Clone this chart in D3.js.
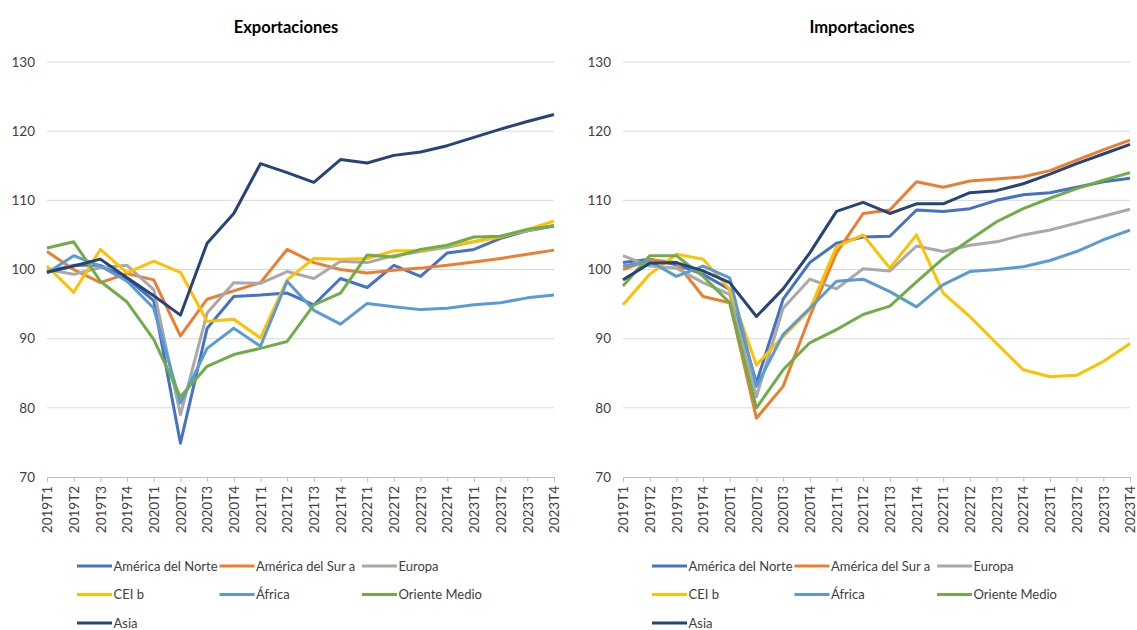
<!DOCTYPE html>
<html>
<head>
<meta charset="utf-8">
<script src="https://cdn.jsdelivr.net/npm/d3@7"></script>
<style>
  html, body { margin: 0; padding: 0; background: #fff; }
  svg { display: block; font-family: Lato, 'Open Sans', sans-serif; }
</style>
</head>
<body>
<svg id="chart"></svg>
<script>
// trimestres
const categories = ['2019T1', '2019T2', '2019T3', '2019T4', '2020T1', '2020T2', '2020T3', '2020T4',
  '2021T1', '2021T2', '2021T3', '2021T4', '2022T1', '2022T2', '2022T3', '2022T4',
  '2023T1', '2023T2', '2023T3', '2023T4']
const seriesNames = ['América del Norte', 'América del Sur a', 'Europa', 'CEI b', 'África', 'Oriente Medio', 'Asia']
const seriesColors = ['#4472C4', '#ED7D31', '#A9A9A9', '#FFC000', '#5B9BD5', '#70AD47', '#264478']
const yTicks = [70, 80, 90, 100, 110, 120, 130]

// Exportaciones
const expNorte = [99.7, 100.6, 100.6, 98.7, 95.5, 74.9, 91.5, 96.1, 96.3, 96.6, 94.9, 98.7, 97.4, 100.6, 99.0, 102.4, 102.9, 104.5, 105.6, 106.3]
const expSur = [102.6, 100.0, 98.1, 99.4, 98.5, 90.4, 95.7, 96.9, 98.1, 102.9, 101.0, 100.0, 99.5, 99.9, 100.2, 100.6, 101.1, 101.6, 102.2, 102.8]
const expEuropa = [100.0, 99.3, 100.3, 100.6, 97.1, 79.0, 93.7, 98.1, 98.0, 99.7, 98.7, 101.2, 101.0, 102.0, 102.6, 103.2, 104.0, 104.8, 105.6, 106.4]
const expCei = [100.5, 96.7, 102.9, 99.5, 101.2, 99.6, 92.5, 92.8, 90.1, 98.5, 101.6, 101.5, 101.6, 102.7, 102.7, 103.5, 104.0, 104.7, 105.8, 107.0]
const expAfrica = [99.5, 102.0, 100.5, 98.3, 94.4, 80.7, 88.6, 91.5, 88.9, 98.3, 94.1, 92.1, 95.1, 94.6, 94.2, 94.4, 94.9, 95.2, 95.9, 96.3]
const expOriente = [103.1, 104.0, 98.3, 95.3, 89.9, 81.6, 86.0, 87.7, 88.6, 89.6, 94.9, 96.6, 102.1, 101.8, 102.9, 103.5, 104.7, 104.8, 105.8, 106.3]
const expAsia = [99.6, 100.5, 101.5, 98.8, 96.2, 93.4, 103.8, 108.1, 115.3, 114.0, 112.6, 115.9, 115.4, 116.5, 117.0, 117.9, 119.1, 120.3, 121.4, 122.4]

// Importaciones
const impNorte = [101.0, 101.5, 100.7, 99.3, 97.1, 83.6, 95.7, 101.0, 103.8, 104.7, 104.8, 108.6, 108.4, 108.8, 110.0, 110.8, 111.1, 111.9, 112.7, 113.2]
const impSur = [100.0, 101.4, 101.0, 96.1, 95.2, 78.5, 83.1, 93.2, 102.4, 108.1, 108.6, 112.7, 111.9, 112.8, 113.1, 113.4, 114.3, 115.8, 117.3, 118.7]
const impEuropa = [102.0, 100.5, 100.2, 98.1, 96.4, 81.6, 94.4, 98.6, 97.2, 100.1, 99.8, 103.4, 102.6, 103.5, 104.0, 105.0, 105.7, 106.7, 107.7, 108.7]
const impCei = [94.9, 99.3, 102.2, 101.5, 97.1, 86.2, 90.3, 94.2, 103.3, 105.0, 100.2, 105.0, 96.6, 93.2, 89.3, 85.5, 84.5, 84.7, 86.7, 89.3]
const impAfrica = [100.5, 101.2, 99.0, 100.5, 98.8, 83.1, 90.6, 94.4, 98.3, 98.6, 96.8, 94.6, 97.8, 99.7, 100.0, 100.4, 101.3, 102.6, 104.3, 105.7]
const impOriente = [97.6, 102.0, 102.0, 99.0, 95.2, 80.0, 85.5, 89.4, 91.3, 93.5, 94.7, 98.2, 101.6, 104.3, 106.9, 108.8, 110.3, 111.7, 112.9, 114.0]
const impAsia = [98.5, 100.9, 101.0, 99.8, 98.1, 93.2, 97.2, 102.4, 108.4, 109.7, 108.1, 109.5, 109.5, 111.1, 111.4, 112.4, 113.8, 115.3, 116.7, 118.1]

const width = 1137
const height = 630
const svg = d3.select('#chart').attr('width', width).attr('height', height)

const panels = [
  { title: 'Exportaciones', left: 47, right: 554, titleX: 286, legendX: 77,
    series: [expNorte, expSur, expEuropa, expCei, expAfrica, expOriente, expAsia] },
  { title: 'Importaciones', left: 623, right: 1130, titleX: 862, legendX: 652,
    series: [impNorte, impSur, impEuropa, impCei, impAfrica, impOriente, impAsia] }
]

const plotTop = 62
const plotBottom = 477

function drawPanel(p) {
  const g = svg.append('g')

  const x = d3.scalePoint().domain(categories).range([p.left, p.right])
  const y = d3.scaleLinear().domain([70, 130]).range([plotBottom, plotTop])

  // titulo
  g.append('text')
    .attr('x', p.titleX).attr('y', 33)
    .attr('text-anchor', 'middle')
    .attr('font-size', 16.5).attr('font-weight', 'bold')
    .attr('fill', '#000')
    .text(p.title)

  // lineas de la grilla
  g.selectAll('.grid')
    .data(yTicks.filter(d => d > 70))
    .enter()
    .append('line')
    .attr('x1', p.left).attr('x2', p.right)
    .attr('y1', d => y(d)).attr('y2', d => y(d))
    .attr('stroke', '#d9d9d9').attr('stroke-width', 1)

  // eje y (solo etiquetas)
  const yAxis = g.append('g')
    .attr('transform', `translate(${p.left - 12},0)`)
    .call(d3.axisLeft(y).tickValues(yTicks).tickSize(0).tickPadding(0))
  yAxis.select('.domain').remove()
  yAxis.selectAll('text').attr('font-size', 13.5).attr('fill', '#404040')
    .style('font-family', 'Lato, sans-serif')

  // eje x
  const xAxis = g.append('g')
    .attr('transform', `translate(0,${plotBottom})`)
    .call(d3.axisBottom(x).tickSizeInner(5).tickSizeOuter(0))
  xAxis.select('.domain').attr('stroke', '#bfbfbf')
  xAxis.selectAll('.tick line').attr('stroke', '#bfbfbf')
  xAxis.selectAll('text')
    .attr('transform', 'rotate(-90)')
    .attr('text-anchor', 'end')
    .attr('x', -9).attr('y', 0).attr('dy', '0.35em')
    .attr('font-size', 13.5).attr('fill', '#404040')
    .style('font-family', 'Lato, sans-serif')

  // series
  const line = d3.line()
    .x((d, i) => x(categories[i]))
    .y(d => y(d))

  g.selectAll('.serie')
    .data(p.series)
    .enter()
    .append('path')
    .attr('d', d => line(d))
    .attr('fill', 'none')
    .attr('stroke', (d, i) => seriesColors[i])
    .attr('stroke-width', 3)
    .attr('stroke-linejoin', 'round')

  // leyenda
  const legend = g.selectAll('.leg')
    .data(seriesNames)
    .enter()
    .append('g')
    .attr('transform', (d, i) => `translate(${p.legendX + (i % 3) * 142.5},${566 + Math.floor(i / 3) * 28.5})`)
  legend.append('line')
    .attr('x1', 0).attr('x2', 35)
    .attr('stroke', (d, i) => seriesColors[i])
    .attr('stroke-width', 3)
  legend.append('text')
    .attr('x', 36.5).attr('dy', '0.35em')
    .attr('font-size', 13).attr('fill', '#404040')
    .text(d => d)
}

panels.forEach(drawPanel)
</script>
</body>
</html>
